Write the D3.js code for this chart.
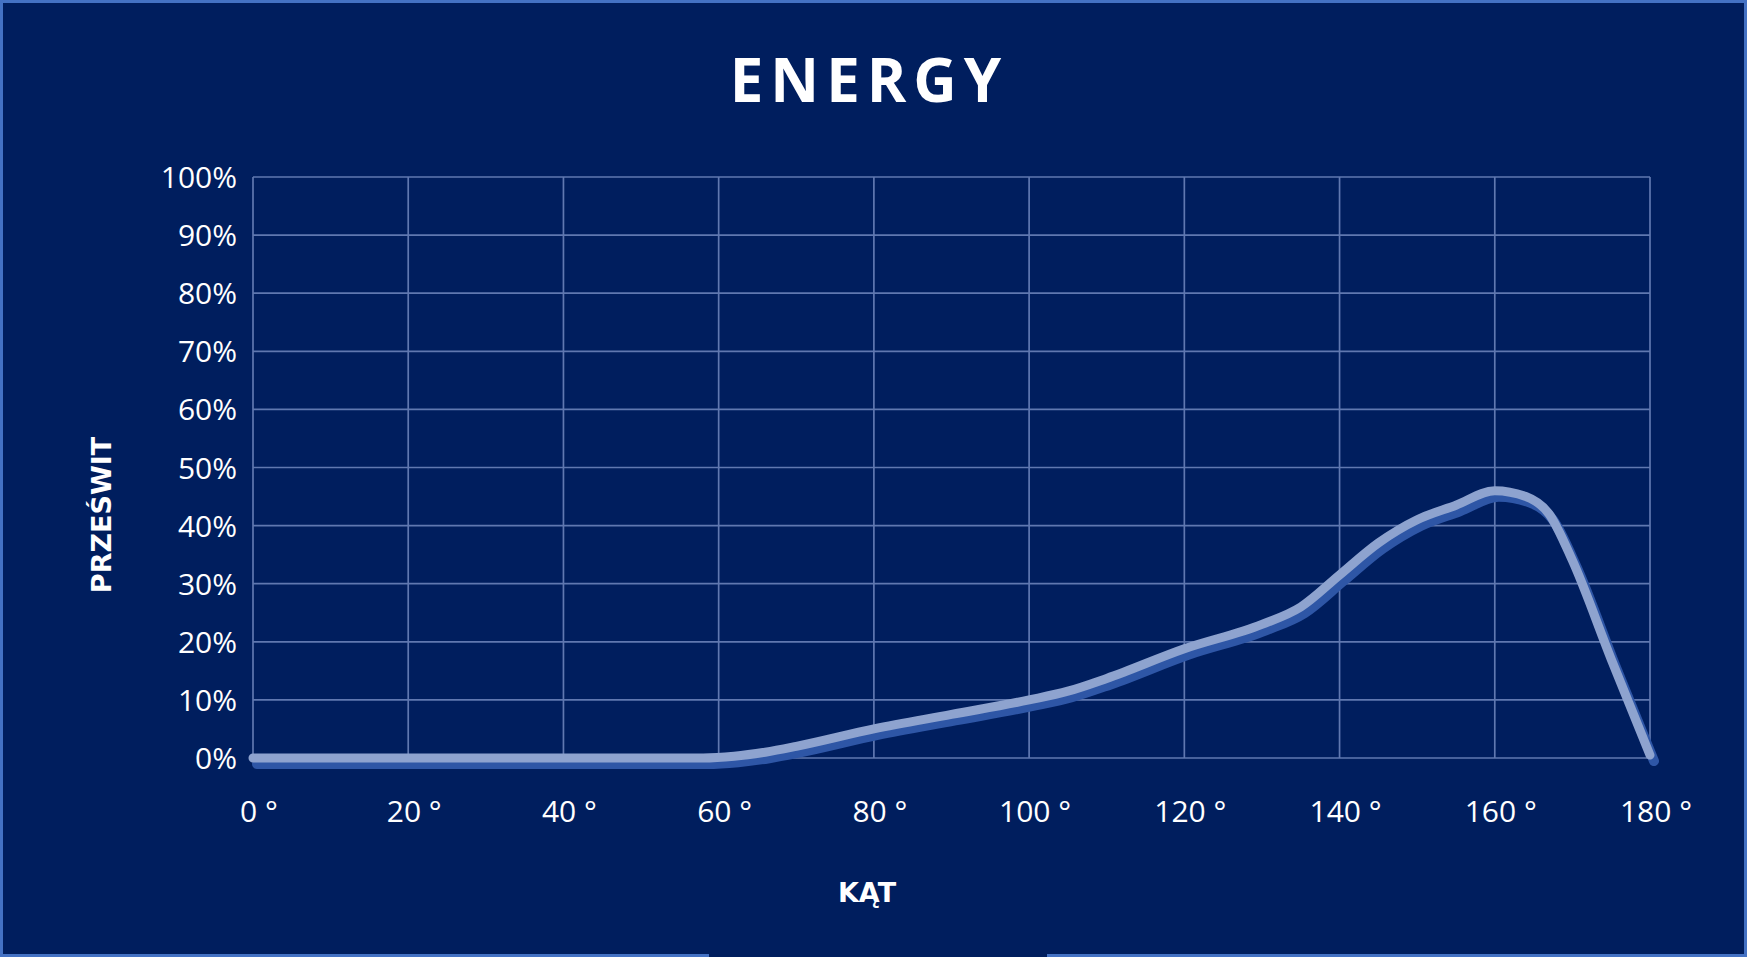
<!DOCTYPE html>
<html><head><meta charset="utf-8">
<script src="https://cdn.jsdelivr.net/npm/d3@7"></script>
<style>body{margin:0;background:#001e5e;} svg{display:block;}</style>
</head><body><svg id="chart" width="1747" height="957"></svg>
<script>
// kąt (deg) vs prześwit (%)
var angles = [0, 20, 40, 50, 58, 62, 66, 70, 80, 90, 100, 105, 110, 120, 130, 135, 140, 145, 150, 155, 160, 164, 167, 170, 175, 180];
var values = [0, 0, 0, 0, 0, 0.3, 1, 2, 5, 7.5, 10, 11.5, 13.7, 18.8, 23, 26, 31.5, 37, 41, 43.5, 46, 45, 42, 34, 17, 0.5];
var xTicks = [0, 20, 40, 60, 80, 100, 120, 140, 160, 180];
var yTicks = [0, 10, 20, 30, 40, 50, 60, 70, 80, 90, 100];

var svg = d3.select('#chart');
var x = d3.scaleLinear().domain([0, 180]).range([253, 1650]);
var y = d3.scaleLinear().domain([0, 100]).range([758, 177]);

// frame
svg.append('rect').attr('x', 1.5).attr('y', 1.5).attr('width', 1744).attr('height', 954)
    .attr('fill', '#001e5e').attr('stroke', '#4472c4').attr('stroke-width', 3);
svg.append('line').attr('x1', 709).attr('x2', 1047).attr('y1', 956).attr('y2', 956)
    .attr('stroke', '#001e5e').attr('stroke-width', 4);

// grid
var grid = svg.append('g').attr('stroke', '#7188bf').attr('stroke-width', 1.7).attr('opacity', 0.85);
yTicks.forEach(function(t){
    grid.append('line').attr('x1', x(0)).attr('x2', x(180)).attr('y1', y(t)).attr('y2', y(t));
});
xTicks.forEach(function(t){
    grid.append('line').attr('x1', x(t)).attr('x2', x(t)).attr('y1', y(0)).attr('y2', y(100));
});

// tick labels
svg.append('g').selectAll('text').data(yTicks).join('text')
    .attr('x', 237).attr('y', function(d){ return y(d) + 11; })
    .attr('text-anchor', 'end').attr('fill', '#fff')
    .attr('font-family', 'Open Sans').attr('font-size', 30)
    .text(function(d){ return d + '%'; });
svg.append('g').selectAll('text').data(xTicks).join('text')
    .attr('x', function(d){ return x(d) + 6; }).attr('y', 822)
    .attr('text-anchor', 'middle').attr('fill', '#fff')
    .attr('font-family', 'Open Sans').attr('font-size', 30)
    .text(function(d){ return d + ' °'; });

// titles
svg.append('text').attr('x', 869).attr('y', 102).attr('text-anchor', 'middle')
    .attr('fill', '#fff').attr('font-family', 'Open Sans').attr('font-weight', 'bold')
    .attr('font-size', 60).attr('letter-spacing', 7).text('ENERGY');
svg.append('text').attr('x', 867).attr('y', 902).attr('text-anchor', 'middle')
    .attr('fill', '#fff').attr('font-family', 'DejaVu Sans').attr('font-weight', 'bold')
    .attr('font-size', 27).text('KĄT');
svg.append('text').attr('transform', 'translate(111,515) rotate(-90)').attr('text-anchor', 'middle')
    .attr('fill', '#fff').attr('font-family', 'DejaVu Sans').attr('font-weight', 'bold')
    .attr('font-size', 27).text('PRZEŚWIT');

// curve with shadow
var pts = angles.map(function(a, i){ return [a, values[i]]; });
var line = d3.line().x(function(d){ return x(d[0]); }).y(function(d){ return y(d[1]); })
    .curve(d3.curveMonotoneX);
svg.append('path').datum(pts).attr('d', line).attr('transform', 'translate(4,6)')
    .attr('fill', 'none').attr('stroke', '#2e56a6').attr('stroke-width', 10).attr('stroke-linecap', 'round');
svg.append('path').datum(pts).attr('d', line)
    .attr('fill', 'none').attr('stroke', '#8ea3cf').attr('stroke-width', 9).attr('stroke-linecap', 'round');
</script></body></html>
